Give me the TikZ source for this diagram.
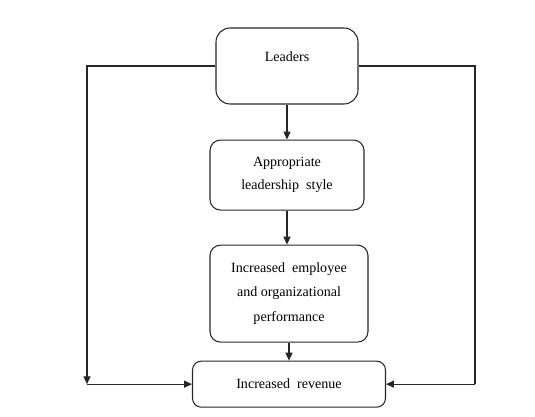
\documentclass[tikz,border=0pt]{standalone}
\usepackage{fontspec}
\setmainfont{Liberation Serif}
\usepackage{tikz}
\usetikzlibrary{arrows.meta, positioning}

\begin{document}
\begin{tikzpicture}[
  box/.style={
    rectangle, rounded corners=6pt,
    draw=black!85, line width=0.6pt,
    align=center, font=\fontsize{8}{14}\selectfont
  },
  arr/.style={-{Triangle[length=4.5pt,width=4pt]}, line width=0.6pt, draw=black!85}
]
  \useasboundingbox (0,0) rectangle (10.7,8.34);

  \node[box, rounded corners=8pt, minimum width=2.84cm, minimum height=1.52cm,
        text depth=0.36cm] (lead) at (5.74,7.02) {Leaders};
  \node[box, minimum width=3.08cm, minimum height=1.40cm, below=0.70cm of lead]
        (style) {\raisebox{-0.12cm}{\shortstack{Appropriate\\[3pt]leadership~ style}}};
  \node[box, minimum width=3.16cm, minimum height=1.94cm, below=0.68cm of style,
        xshift=0.04cm] (perf) {Increased~ employee\\and organizational\\performance};
  \node[box, rounded corners=5pt, minimum width=3.86cm, minimum height=0.92cm,
        below=0.36cm of perf] (rev) {Increased~ revenue};

  \coordinate (lx) at (1.74,0);
  \coordinate (rx) at (9.5,0);
  \coordinate (lb) at (lx |- rev.west);
  \coordinate (rb) at (rx |- rev.east);

  \draw[arr] (lead) -- (style);
  \draw[arr] (style.south) -- (style.south |- perf.north);
  \draw[arr] (perf) -- (rev);

  \draw[arr] (lead.west) -| (lb);
  \draw[arr] (lb) -- (rev.west);
  \draw[line width=0.6pt, draw=black!85] (lead.east) -| (rb);
  \draw[arr] (rb) -- (rev.east);
\end{tikzpicture}
\end{document}
